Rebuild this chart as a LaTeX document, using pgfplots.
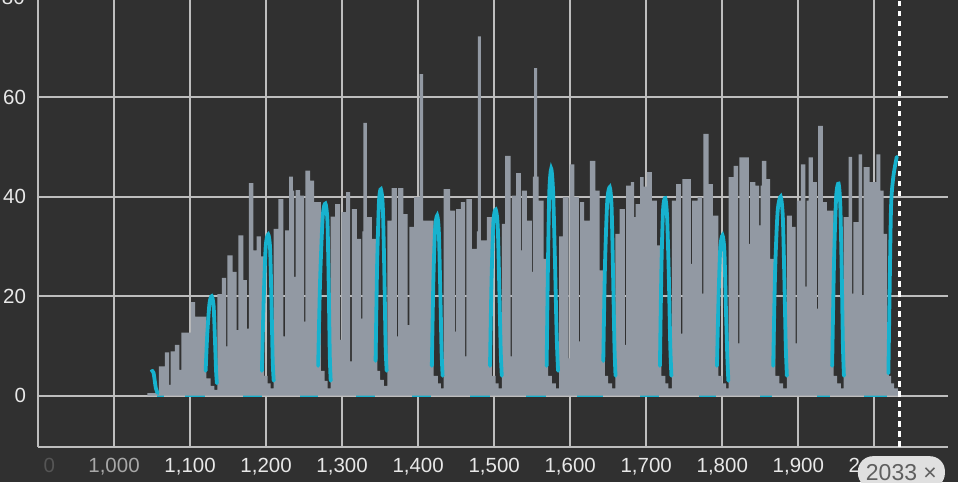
\documentclass[border=0pt]{standalone}
\usepackage{fontspec}
\setmainfont{Liberation Sans}
\usepackage{pgfplots}
\pgfplotsset{compat=1.18}
\definecolor{bg}{HTML}{303030}
\definecolor{gridc}{HTML}{BDBDBD}
\definecolor{greyfill}{HTML}{9299A3}
\definecolor{cyanl}{HTML}{17B2CE}
\definecolor{ticktext}{HTML}{E8E8E8}
\definecolor{dimtext}{HTML}{A8A8A8}
\definecolor{fadetext}{HTML}{555555}
\definecolor{pill}{HTML}{E0E0E0}
\definecolor{pilltext}{HTML}{5F5F5F}
\pgfplotstableread{
x y
1044 0.5
1059 5.9
1067 8.7
1072.5 2.2
1074.5 8.9
1080 10.2
1086 5.2
1088.5 12.7
1101 18.8
1106.5 15.9
1121.5 3.5
1127 2
1132 1.2
1136 20.4
1141.7 23.7
1147.4 9.9
1149 28.2
1156 24.9
1161.4 13.2
1163.6 32.2
1170.2 23.2
1174.6 13.5
1177.2 42.7
1183.3 29.2
1187.7 32
1193 28
1197.5 4
1202 2.5
1206 1.5
1210 33.5
1216 39.5
1222.8 11.9
1225 33.2
1230.3 44
1235.1 41.2
1237 23.9
1238.8 41.3
1244.7 40.2
1250 14.9
1251.8 45.2
1258 43.2
1263.2 38.9
1272 5
1277 3
1281 1.5
1285 36
1290.8 38.5
1297.4 11.2
1299.5 36.9
1305.3 40.9
1310.5 6.9
1312.7 37.5
1319.3 31.5
1325 15.5
1326.7 33
1328 54.8
1332.4 35.9
1339 31.5
1346.5 5
1350 3.2
1355 2
1359.5 35.2
1365 41.7
1371.9 11.9
1373.5 41.7
1380.7 36.5
1386 14.2
1388.3 33.9
1394.7 39.9
1402 64.6
1406.5 35.2
1420.5 4
1426 2.5
1430 1.5
1433.5 41.5
1442 37.2
1448.5 12.9
1450 37.5
1456.1 38.9
1461.8 7.9
1463.5 39.5
1470.6 29.5
1477.2 33
1478.5 72.2
1482.5 31.2
1490.3 35.9
1497 4
1502 2.5
1506 1.5
1510 34.5
1514.5 48.2
1521.5 7.9
1523.2 40.2
1529 44.7
1535 29.2
1536.5 41.2
1543 35.2
1549.6 24.9
1551 44
1552.5 65.8
1556.5 44
1558.3 39.2
1565 27.5
1571 4
1576 2.5
1581 1.5
1585.5 32
1590.5 39.9
1598 7.5
1599.5 46.5
1605.5 39.9
1611.5 10.9
1613 38.9
1618.4 35.2
1626 47.2
1633 41.2
1638.6 25.2
1645.5 4
1650 2.5
1655 1.5
1659.5 32.5
1665 37.5
1671.8 10.2
1673.5 42.2
1679.8 42.9
1684.2 35.9
1686 38.5
1692 43.9
1696.5 42
1700.8 44.9
1707.4 39.2
1714 30.2
1720 4
1725 2.5
1729 1.5
1733.7 39.2
1739.4 42.5
1745.6 12.5
1747.5 43.5
1758.7 26.5
1760.5 39.2
1767.5 39.9
1773.5 20.5
1775.2 52.6
1782 42.5
1787.7 36.2
1795 4
1800 2.5
1805 1.5
1808.3 43.9
1814.9 46.2
1821 10.5
1822.5 47.9
1835 30.5
1836.5 42.9
1843.4 42.2
1848.5 34.2
1850.5 42.2
1852 47.2
1858 43.5
1863 27.5
1869.7 4
1875 2.5
1880 1.5
1885 36.2
1891.6 33.9
1896.5 10.5
1898.2 39.2
1903.5 46.5
1909.2 21.9
1911 39.2
1913.6 47.9
1919.3 42.9
1924.5 17.5
1926 54.2
1932.4 38.9
1937.7 37.2
1946.5 4
1951 2.5
1956 1.5
1959.6 35.9
1966.2 48
1970.8 20.5
1972.5 34.9
1979.3 48.5
1984 20.2
1986 45.9
1993.8 42.9
2002.6 48.5
2007.9 41.2
2012.3 32.5
2016.7 7
2019 4
2022 2.5
2026 1.5
2031 0.8
2033 0
}\greydata
\begin{document}
\begin{tikzpicture}
\fill[bg] (-38pt,-35.5pt) rectangle (920pt,446.5pt);
\begin{axis}[
  at={(0,0)}, anchor=south west,
  scale only axis, width=910pt, height=446.5pt,
  xmin=900, xmax=2096.9, ymin=-10.2, ymax=79.5,
  clip mode=individual,
  axis lines=left,
  axis line style={draw=gridc, line width=2pt, -},
  grid=major, grid style={draw=gridc, line width=2pt},
  xtick={900,1000,1100,1200,1300,1400,1500,1600,1700,1800,1900,2000},
  xticklabels={{\textcolor{fadetext}{\phantom{90}0}},{\textcolor{dimtext}{1,000}},{1,100},{1,200},{1,300},{1,400},{1,500},{1,600},{1,700},{1,800},{1,900},{2,000}},
  ytick={0,20,40,60},
  major tick length=0pt,
  /pgf/number format/assume math mode=true,
  tick label style={font=\fontsize{20.5}{24}\selectfont, text=ticktext},
  yticklabel style={xshift=-8.5pt},
  xticklabel style={yshift=-8.5pt},
  cy/.style={cyanl, line width=3.8pt, smooth, tension=0.45, line cap=round},
]
% cyan baseline segments (behind the grey area)
\addplot[cyanl, line width=3.5pt] coordinates {(1057,0)(1066,0)};
\addplot[cyanl, line width=3.5pt] coordinates {(1093,0)(1120,0)};
\addplot[cyanl, line width=3.5pt] coordinates {(1170,0)(1194,0)};
\addplot[cyanl, line width=3.5pt] coordinates {(1244,0)(1268,0)};
\addplot[cyanl, line width=3.5pt] coordinates {(1318,0)(1343,0)};
\addplot[cyanl, line width=3.5pt] coordinates {(1392,0)(1417,0)};
\addplot[cyanl, line width=3.5pt] coordinates {(1468,0)(1494,0)};
\addplot[cyanl, line width=3.5pt] coordinates {(1542,0)(1568,0)};
\addplot[cyanl, line width=3.5pt] coordinates {(1609,0)(1643,0)};
\addplot[cyanl, line width=3.5pt] coordinates {(1692,0)(1717,0)};
\addplot[cyanl, line width=3.5pt] coordinates {(1769,0)(1792,0)};
\addplot[cyanl, line width=3.5pt] coordinates {(1850,0)(1866,0)};
\addplot[cyanl, line width=3.5pt] coordinates {(1924,0)(1942,0)};
\addplot[cyanl, line width=3.5pt] coordinates {(1986,0)(2017,0)};
% grey area
\addplot[const plot mark left, draw=none, fill=greyfill] table[x=x,y=y] {\greydata} \closedcycle;
% cyan spikes
\addplot[cy] coordinates {(1049.5,5)(1052,4.6)(1055,1.5)(1057.5,0.5)};
\addplot[cy] coordinates {(1120.5,5)(1122.5,12)(1125.5,18.5)(1128.5,20)(1131,18)(1132.8,11)(1134.2,5)(1135.3,2.5)};
\addplot[cy] coordinates {(1194.5,5)(1196.8,19)(1199.5,30)(1202.8,32.4)(1205.3,29.5)(1207.2,18)(1208.7,7)(1210,3)};
\addplot[cy] coordinates {(1268.5,6)(1271,23)(1274.5,36)(1278,38.6)(1280.7,35)(1282.4,22)(1283.8,8)(1285,3)};
\addplot[cy] coordinates {(1344,7)(1346,26)(1348.5,39)(1351,41.5)(1353.5,38)(1355.5,25)(1357.2,10)(1358.6,5)};
\addplot[cy] coordinates {(1418,6)(1420,23)(1422.3,33.5)(1425,36.2)(1427.2,33)(1429,22)(1430.8,9)(1432.2,4)};
\addplot[cy] coordinates {(1494.5,6)(1496.5,23)(1499,35)(1502,37.4)(1504.7,34)(1506.7,22)(1508.6,9)(1510,4)};
\addplot[cy] coordinates {(1569,6)(1570.7,26)(1572.5,41)(1575,45.6)(1577.5,41)(1579.8,28)(1582.2,12)(1584,5)};
\addplot[cy] coordinates {(1643.5,7)(1645.7,26)(1648.7,39)(1652,41.9)(1654.4,38)(1656.3,25)(1658.2,10)(1659.6,4)};
\addplot[cy] coordinates {(1718,6)(1720,26)(1722.2,37.5)(1725,39.7)(1727.4,36)(1729.7,24)(1731.6,10)(1733.1,4)};
\addplot[cy] coordinates {(1793,6)(1795,19)(1797.3,29.5)(1800.3,32.2)(1802.8,29)(1804.7,18)(1806.6,8)(1808,3)};
\addplot[cy] coordinates {(1867,6)(1869.5,25)(1872.8,37)(1876.8,40)(1879.6,36)(1881.6,24)(1883.5,10)(1885,4)};
\addplot[cy] coordinates {(1944.5,6)(1947,27)(1949.8,40)(1953,42.6)(1955.3,38)(1957.2,24)(1958.7,10)(1960,4)};
\addplot[cy] coordinates {(2018.5,4.5)(2020,20)(2022,38)(2025,44)(2029.5,48)};
% dashed cursor line
\addplot[white, line width=3.5pt, dash pattern=on 5.5pt off 4.5pt] coordinates {(2033,-10.2)(2033,79.5)};
\node[anchor=east, text=ticktext, font=\fontsize{20.5}{24}\selectfont, inner sep=0pt] at ([xshift=-13pt]axis cs:900,80) {80};
\node[anchor=north, fill=pill, text=pilltext, rounded corners=15pt, minimum height=32pt, inner xsep=8pt, font=\fontsize{23}{26}\selectfont] at ([xshift=2pt,yshift=-9.5pt]axis cs:2033,-10.2) {2033 ×};
\end{axis}
\pgfresetboundingbox
\path (-38pt,-35.5pt) rectangle (920pt,446.5pt);
\end{tikzpicture}
\end{document}
